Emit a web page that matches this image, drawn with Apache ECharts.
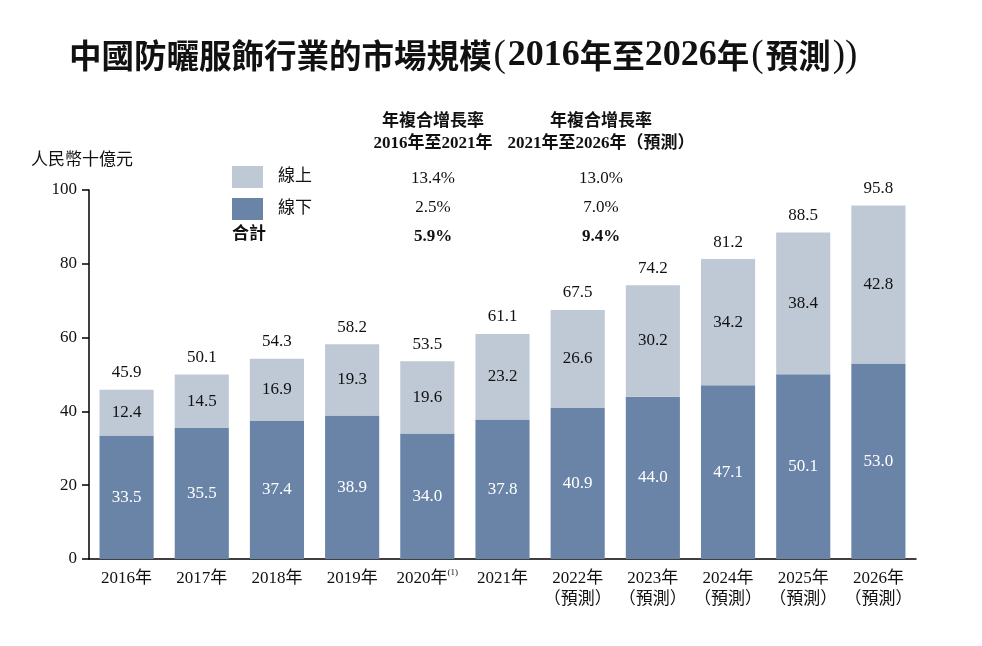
<!DOCTYPE html>
<html>
<head>
<meta charset="utf-8">
<script src="https://cdn.jsdelivr.net/npm/echarts@6/dist/echarts.min.js"></script>
<style>html,body{margin:0;padding:0;background:#fff}#c{width:982px;height:646px}</style>
</head>
<body>
<div id="c"></div>
<script>
const categories = ['2016年','2017年','2018年','2019年','2020年','2021年','2022年\n（預測）','2023年\n（預測）','2024年\n（預測）','2025年\n（預測）','2026年\n（預測）'];
const offline = [33.5,35.5,37.4,38.9,34.0,37.8,40.9,44.0,47.1,50.1,53.0];
const online = [12.4,14.5,16.9,19.3,19.6,23.2,26.6,30.2,34.2,38.4,42.8];
const totals = [45.9,50.1,54.3,58.2,53.5,61.1,67.5,74.2,81.2,88.5,95.8];
const cagrHeaders = ['年複合增長率\n2016年至2021年', '年複合增長率\n2021年至2026年（預測）'];
const cagrOnline = ['13.4%','13.0%'];
const cagrOffline = ['2.5%','7.0%'];
const cagrTotal = ['5.9%','9.4%'];

const FONT = '"Liberation Serif","Noto Sans CJK TC",serif';
const CJK = '"Noto Sans CJK TC",sans-serif';
const chart = echarts.init(document.getElementById('c'));
const colX = [433, 601];
const graphics = [
  {type:'text', left:31, top:152, style:{text:'人民幣十億元', font:'17px '+FONT, fill:'#111'}},
  {type:'text', left:232, top:226, style:{text:'合計', font:'bold 17px '+FONT, fill:'#111'}}
];
colX.forEach((x,i)=>{
  graphics.push({type:'text', x:x, y:111, style:{text:cagrHeaders[i], font:'bold 17px '+FONT, fill:'#111', align:'center', verticalAlign:'top', lineHeight:22}});
  graphics.push({type:'text', x:x, y:179, style:{text:cagrOnline[i], font:'17px '+FONT, fill:'#111', align:'center', verticalAlign:'middle'}});
  graphics.push({type:'text', x:x, y:208, style:{text:cagrOffline[i], font:'17px '+FONT, fill:'#111', align:'center', verticalAlign:'middle'}});
  graphics.push({type:'text', x:x, y:237, style:{text:cagrTotal[i], font:'bold 17px '+FONT, fill:'#111', align:'center', verticalAlign:'middle'}});
});

chart.setOption({
  animation:false,
  title:{text:'{c|中國防曬服飾行業的市場規模}{p|(}{d|2016}{c|年至}{d|2026}{c|年}{p|(}{c|預測}{p|))}', left:64, top:30,
    textStyle:{fontFamily:CJK, fontSize:33, fontWeight:'bold', color:'#111',
      rich:{
        c:{fontFamily:CJK, fontSize:32.5, fontWeight:'bold', color:'#111', lineHeight:42},
        d:{fontFamily:'"Liberation Serif",serif', fontSize:36, fontWeight:'bold', color:'#111', lineHeight:42},
        p:{fontFamily:'"Liberation Serif",serif', fontSize:37, fontWeight:'normal', color:'#111', lineHeight:42, padding:[0,2,0,2]}
      }}},
  legend:{data:['線上','線下'], orient:'vertical', left:232, top:166, itemWidth:31, itemHeight:22, itemGap:10,
    icon:'rect', padding:0, textStyle:{fontFamily:FONT, fontSize:17, color:'#111', padding:[0,0,0,10]}},
  grid:{left:89, right:66, top:190, bottom:87, containLabel:false},
  xAxis:{type:'category', data:categories,
    axisLine:{lineStyle:{color:'#000', width:1.5}}, axisTick:{show:false},
    axisLabel:{interval:0, margin:9, fontFamily:FONT, fontSize:17, color:'#111', lineHeight:21,
      formatter:v=> v==='2020年' ? '2020年{sup|(1)}' : v,
      rich:{sup:{fontFamily:FONT, fontSize:9, color:'#111', verticalAlign:'top', padding:[0,0,8,0]}}}},
  yAxis:{type:'value', min:0, max:100, interval:20,
    axisLine:{show:true, lineStyle:{color:'#000', width:1.5}},
    axisTick:{show:true, inside:false, length:7, lineStyle:{color:'#000', width:1.5}},
    splitLine:{show:false},
    axisLabel:{margin:12, fontFamily:FONT, fontSize:17, color:'#111'}},
  graphic:graphics,
  series:[
    {name:'線下', type:'bar', stack:'t', data:offline, barWidth:'72%', itemStyle:{color:'#6a84a8'},
      label:{show:true, position:'inside', color:'#fff', fontFamily:FONT, fontSize:17, formatter:p=>p.value.toFixed(1)}},
    {name:'線上', type:'bar', stack:'t', data:online, barWidth:'72%', itemStyle:{color:'#bfc9d6'},
      label:{show:true, position:'inside', color:'#111', fontFamily:FONT, fontSize:17, formatter:p=>p.value.toFixed(1)}},
    {name:'合計', type:'line', data:totals, symbol:'circle', symbolSize:1, itemStyle:{color:'rgba(0,0,0,0)'},
      lineStyle:{color:'rgba(0,0,0,0)', width:0}, z:5, silent:true,
      label:{show:true, position:'top', distance:8, color:'#111', fontFamily:FONT, fontSize:17, formatter:p=>p.value.toFixed(1)}}
  ]
});
</script>
</body>
</html>
